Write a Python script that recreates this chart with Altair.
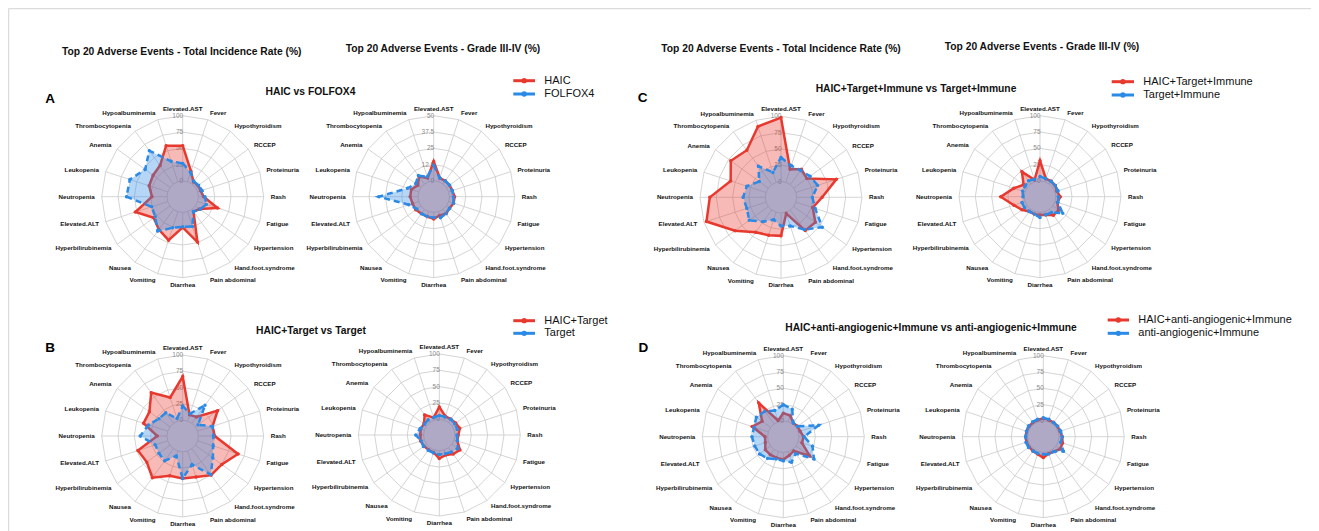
import math
import altair as alt
import pandas as pd

# ---------------- data ----------------
AXES = ["Elevated.AST", "Fever", "Hypothyroidism", "RCCEP", "Proteinuria", "Rash",
        "Fatigue", "Hypertension", "Hand.foot.syndrome", "Pain abdominal", "Diarrhea",
        "Vomiting", "Nausea", "Hyperbilirubinemia", "Elevated.ALT", "Neutropenia",
        "Leukopenia", "Anemia", "Thrombocytopenia", "Hypoalbuminemia"]

# Panel A : HAIC vs FOLFOX4
A_TOT_HAIC = [54, 17, 4, 5, 5, 8, 32, 8, 4, 49, 23, 46, 38, 31, 52, 23, 30, 32, 35, 58]
A_TOT_FOLFOX4 = [27, 15, 5, 6, 7, 10, 14, 9, 4, 24, 22, 26, 41, 28, 26, 62, 61, 47, 63, 33]
A_G34_HAIC = [15, 3, 3, 3, 3, 4, 4, 3, 4, 3, 5, 4, 4, 5, 5, 6, 6, 3, 7, 3]
A_G34_FOLFOX4 = [12, 3, 3, 3, 3, 3, 4, 3, 4, 5, 4, 4, 4, 4, 8, 30, 9, 5, 8, 4]

# Panel B : HAIC+Target vs Target
B_TOT_HAIC_T = [67, 10, 12, 42, 24, 25, 65, 50, 50, 42, 41, 40, 55, 44, 48, 15, 39, 39, 58, 38]
B_TOT_T = [22, 12, 34, 5, 24, 23, 25, 33, 49, 22, 41, 8, 23, 21, 20, 41, 31, 21, 20, 4]
B_G34_HAIC_T = [19, 6, 6, 7, 9, 5, 5, 15, 12, 8, 12, 4, 4, 5, 6, 5, 6, 5, 14, 4]
B_G34_T = [6, 5, 6, 5, 5, 3, 5, 11, 8, 6, 6, 5, 5, 6, 5, 12, 7, 4, 5, 4]

# Panel C : HAIC+Target+Immune vs Target+Immune
C_TOT_HAIC_TI = [98, 21, 29, 25, 65, 39, 27, 41, 39, 2, 35, 37, 42, 63, 96, 85, 57, 71, 65, 90]
C_TOT_TI = [37, 27, 27, 31, 35, 24, 31, 54, 37, 22, 20, 12, 22, 36, 31, 34, 31, 17, 35, 16]
C_G34_HAIC_TI = [31, 5, 5, 5, 3, 7, 4, 11, 11, 5, 4, 4, 4, 10, 18, 36, 18, 7, 23, 3]
C_G34_TI = [7, 5, 5, 5, 5, 4, 5, 19, 6, 5, 8, 4, 4, 5, 5, 2, 4, 4, 6, 4]

# Panel D : HAIC+anti-angiogenic+Immune vs anti-angiogenic+Immune
D_TOT_HAIC_AI = [12, 10, 2, 3, 3, 7, 6, 26, 3, 6, 11, 10, 10, 10, 5, 4, 26, 16, 40, 2]
D_TOT_AI = [25, 20, 2, 3, 33, 8, 23, 34, 8, 17, 13, 12, 17, 21, 22, 24, 23, 27, 24, 18]
D_G34_HAIC_AI = [4, 3, 3, 3, 3, 5, 7, 8, 4, 3, 8, 4, 3, 3, 3, 3, 3, 3, 3, 3]
D_G34_AI = [5, 4, 3, 3, 4, 5, 4, 14, 4, 4, 3, 3, 3, 4, 4, 3, 3, 4, 4, 4]

TICKS_100 = ["0", "25", "50", "75", "100"]
TICKS_50 = ["0", "12.5", "25", "37.5", "50"]

HEADINGS = ["Top 20 Adverse Events - Total Incidence Rate (%)", "Top 20 Adverse Events - Grade III-IV (%)",
            "Top 20 Adverse Events - Total Incidence Rate (%)", "Top 20 Adverse Events - Grade III-IV (%)"]
PANEL_TITLES = ["HAIC vs FOLFOX4", "HAIC+Target+Immune vs Target+Immune",
                "HAIC+Target vs Target", "HAIC+anti-angiogenic+Immune vs anti-angiogenic+Immune"]
LETTERS = ["A", "C", "B", "D"]
LEGEND_NAMES = [["HAIC", "FOLFOX4"], ["HAIC+Target+Immune", "Target+Immune"],
                ["HAIC+Target", "Target"], ["HAIC+anti-angiogenic+Immune", "anti-angiogenic+Immune"]]

# ---------------- layout / style ----------------
RED = "#E8392F"
BLUE = "#2B8AE6"
GRID = "#c9c9c9"
FONT = "Liberation Sans"
R_IN, R_OUT, R_LAB = 15.7, 81.0, 88.0

PANELS = [
    dict(key="A1", cx=182.7, cy=196.7, vmax=100, ticks=TICKS_100, a=A_TOT_HAIC, b=A_TOT_FOLFOX4),
    dict(key="A2", cx=433.7, cy=196.7, vmax=50, ticks=TICKS_50, a=A_G34_HAIC, b=A_G34_FOLFOX4),
    dict(key="C1", cx=781.0, cy=197.3, vmax=100, ticks=TICKS_100, a=C_TOT_HAIC_TI, b=C_TOT_TI),
    dict(key="C2", cx=1040.0, cy=196.7, vmax=100, ticks=TICKS_100, a=C_G34_HAIC_TI, b=C_G34_TI),
    dict(key="B1", cx=182.7, cy=436.0, vmax=100, ticks=TICKS_100, a=B_TOT_HAIC_T, b=B_TOT_T),
    dict(key="B2", cx=439.3, cy=435.0, vmax=100, ticks=TICKS_100, a=B_G34_HAIC_T, b=B_G34_T),
    dict(key="D1", cx=783.3, cy=436.7, vmax=100, ticks=TICKS_100, a=D_TOT_HAIC_AI, b=D_TOT_AI),
    dict(key="D2", cx=1043.3, cy=436.7, vmax=100, ticks=TICKS_100, a=D_G34_HAIC_AI, b=D_G34_AI),
]

HEAD_POS = [(181.7, 51.7), (443.0, 49.3), (781.0, 49.3), (1042.0, 46.7)]
TITLE_POS = [(310.5, 91.7), (916.0, 89.0), (311.0, 330.7), (931.0, 328.3)]
LETTER_POS = [(50.0, 99.3), (642.7, 98.3), (50.0, 348.3), (643.3, 347.7)]
LEGEND_POS = [  # line x0, x1, y row1, y row2, text x
    (513.3, 535.0, 80.7, 94.0, 544.3),
    (1111.7, 1134.0, 81.7, 95.0, 1143.3),
    (513.3, 535.0, 320.7, 333.3, 544.3),
    (1107.7, 1129.0, 320.0, 333.3, 1138.3),
]

PAGE_BOTTOM = 531


def polar(cx, cy, r, i):
    t = math.radians(18 * i)
    return cx + r * math.sin(t), cy - r * math.cos(t)


grid_rows, spoke_rows, tick_rows, lab_rows, poly_rows = [], [], [], [], []
for p in PANELS:
    for lv in range(5):
        r = R_IN + (R_OUT - R_IN) * lv / 4
        for k in range(21):
            x, y = polar(p["cx"], p["cy"], r, k % 20)
            grid_rows.append(dict(g=f"{p['key']}_{lv}", o=k, x=x, y=y))
        tick_rows.append(dict(t=p["ticks"][lv], x=p["cx"] + 0.5, y=p["cy"] - r))
    for i, name in enumerate(AXES):
        x0, y0 = polar(p["cx"], p["cy"], R_IN, i)
        x1, y1 = polar(p["cx"], p["cy"], R_OUT, i)
        spoke_rows.append(dict(x=x0, y=y0, x2=x1, y2=y1))
        lx, ly = polar(p["cx"], p["cy"], R_LAB, i)
        side = "center" if i in (0, 10) else ("left" if i < 10 else "right")
        lab_rows.append(dict(t=name, x=lx, y=ly, side=side))
    for s in ("a", "b"):
        for i, v in enumerate(p[s]):
            r = R_IN + (R_OUT - R_IN) * v / p["vmax"]
            x, y = polar(p["cx"], p["cy"], r, i)
            poly_rows.append(dict(panel=p["key"], s=s, idx=i, v=v, x=x, y=y))

grid_df = pd.DataFrame(grid_rows)
spoke_df = pd.DataFrame(spoke_rows)
tick_df = pd.DataFrame(tick_rows)
lab_df = pd.DataFrame(lab_rows)
poly_df = pd.DataFrame(poly_rows)

head_df = pd.DataFrame([dict(t=t, x=x, y=y) for t, (x, y) in zip(HEADINGS, HEAD_POS)])
title_df = pd.DataFrame([dict(t=t, x=x, y=y) for t, (x, y) in zip(PANEL_TITLES, TITLE_POS)])
letter_df = pd.DataFrame([dict(t=t, x=x, y=y) for t, (x, y) in zip(LETTERS, LETTER_POS)])

leg_line, leg_dot, leg_text = [], [], []
for names, (x0, x1, ya, yb, tx) in zip(LEGEND_NAMES, LEGEND_POS):
    for name, yy, col in ((names[0], ya, RED), (names[1], yb, BLUE)):
        leg_line.append(dict(x=x0, x2=x1, y=yy, c=col))
        leg_dot.append(dict(x=(x0 + x1) / 2, y=yy, c=col))
        leg_text.append(dict(t=name, x=tx, y=yy))
leg_line_df = pd.DataFrame(leg_line)
leg_dot_df = pd.DataFrame(leg_dot)
leg_text_df = pd.DataFrame(leg_text)

frame_df = pd.DataFrame([dict(x=8.6, y=8.6, x2=1311, y2=8.6), dict(x=8.6, y=8.6, x2=8.6, y2=PAGE_BOTTOM)])

# ---------------- chart ----------------
XS = alt.Scale(domain=[8, 1311], nice=False, zero=False)
YS = alt.Scale(domain=[8, PAGE_BOTTOM], nice=False, zero=False, reverse=True)
X = alt.X("x:Q", scale=XS, axis=None)
Y = alt.Y("y:Q", scale=YS, axis=None)

layers = []
layers.append(alt.Chart(frame_df).mark_rule(stroke="#dcdcdc", strokeWidth=1.3).encode(
    x=X, y=Y, x2="x2:Q", y2="y2:Q"))
layers.append(alt.Chart(grid_df).mark_line(stroke=GRID, strokeWidth=0.8).encode(
    x=X, y=Y, detail="g:N", order="o:Q"))
layers.append(alt.Chart(spoke_df).mark_rule(stroke=GRID, strokeWidth=0.8).encode(
    x=X, y=Y, x2="x2:Q", y2="y2:Q"))
layers.append(alt.Chart(tick_df).mark_text(align="right", baseline="middle", font=FONT,
                                           fontSize=6.5, color="#8c8c8c").encode(x=X, y=Y, text="t:N"))

for s, col, dash in (("a", RED, None), ("b", BLUE, [6, 4])):
    kw = dict(interpolate="linear-closed", fill=col, fillOpacity=0.35, stroke=col, strokeWidth=2.5)
    if dash:
        kw["strokeDash"] = dash
    layers.append(alt.Chart(poly_df).transform_filter(alt.datum.s == s).mark_line(**kw).encode(
        x=X, y=Y, detail="panel:N", order="idx:Q"))
    layers.append(alt.Chart(poly_df).transform_filter(alt.datum.s == s).mark_circle(
        size=12, color=col, opacity=1).encode(x=X, y=Y))

for side in ("left", "right", "center"):
    layers.append(alt.Chart(lab_df).transform_filter(alt.datum.side == side).mark_text(
        align=side, baseline="middle", font=FONT, fontSize=6.2, fontWeight="bold", color="#111111"
    ).encode(x=X, y=Y, text="t:N"))

layers.append(alt.Chart(head_df).mark_text(align="center", baseline="middle", font=FONT, fontSize=10.3,
                                           fontWeight="bold", color="#111111").encode(x=X, y=Y, text="t:N"))
layers.append(alt.Chart(title_df).mark_text(align="center", baseline="middle", font=FONT, fontSize=10.3,
                                            fontWeight="bold", color="#111111").encode(x=X, y=Y, text="t:N"))
layers.append(alt.Chart(letter_df).mark_text(align="center", baseline="middle", font=FONT, fontSize=13.5,
                                             fontWeight="bold", color="#000000").encode(x=X, y=Y, text="t:N"))
layers.append(alt.Chart(leg_line_df).mark_rule(strokeWidth=3).encode(
    x=X, y=Y, x2="x2:Q", color=alt.Color("c:N", scale=None)))
layers.append(alt.Chart(leg_dot_df).mark_circle(size=28, opacity=1).encode(
    x=X, y=Y, color=alt.Color("c:N", scale=None)))
layers.append(alt.Chart(leg_text_df).mark_text(align="left", baseline="middle", font=FONT, fontSize=11,
                                               color="#111111").encode(x=X, y=Y, text="t:N"))

chart = alt.layer(*layers).properties(
    width=1303, height=PAGE_BOTTOM - 8, autosize=alt.AutoSizeParams(type="none"), padding=0,
    background="white"
).configure_view(stroke=None)

chart.save("out.html", embed_options={"renderer": "svg", "actions": False})
